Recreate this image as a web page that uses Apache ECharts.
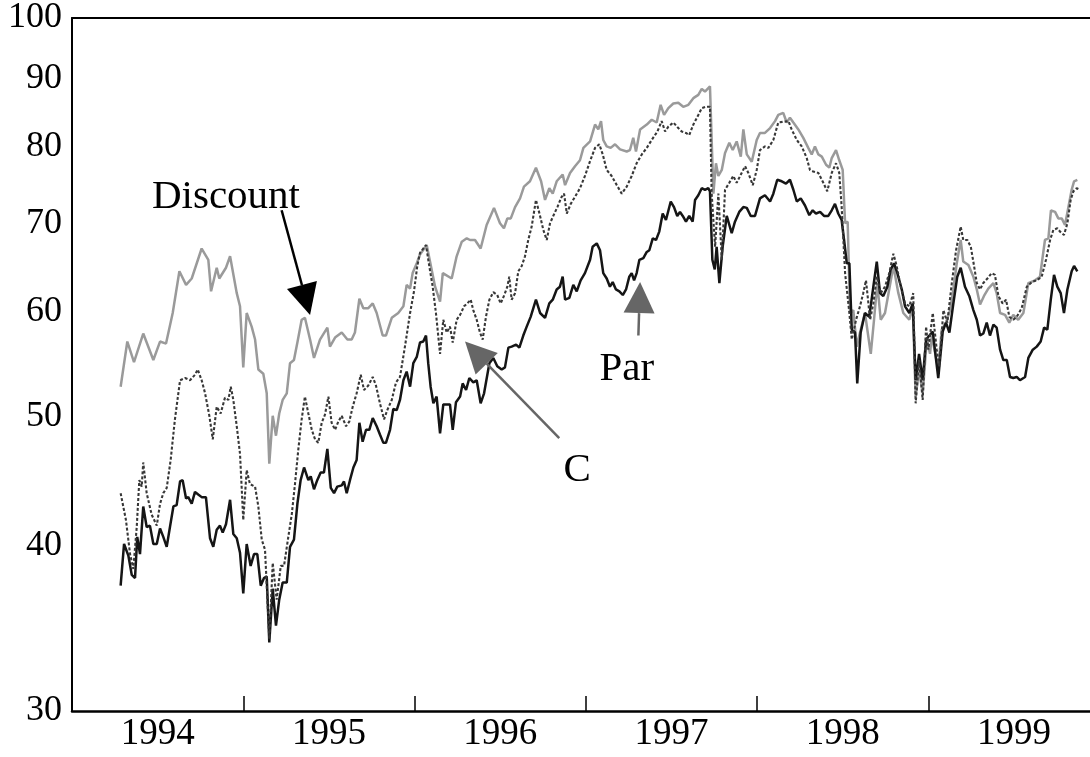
<!DOCTYPE html>
<html>
<head>
<meta charset="utf-8">
<script src="https://cdn.jsdelivr.net/npm/echarts@6.0.0/dist/echarts.min.js"></script>
<style>
html,body{margin:0;padding:0;background:#fff;}
#main{width:1090px;height:757px;}
</style>
</head>
<body>
<div id="main"></div>
<script>
// ---- Data (x = decimal year, y = price) ----
const yTickValues = [30, 40, 50, 60, 70, 80, 90, 100];
const yearTickValues = [1995, 1996, 1997, 1998, 1999];
const yearLabelValues = [1994.5, 1995.5, 1996.5, 1997.5, 1998.5, 1999.5];

const discountDates = [1994.284,1994.323,1994.362,1994.416,1994.475,1994.514,1994.549,1994.588,1994.627,1994.666,1994.699,1994.757,1994.796,1994.812,1994.845,1994.860,1994.899,1994.923,1994.962,1994.981,1995.000,1995.020,1995.049,1995.069,1995.088,1995.117,1995.137,1995.152,1995.172,1995.191,1995.210,1995.230,1995.254,1995.273,1995.296,1995.316,1995.341,1995.360,1995.390,1995.413,1995.448,1995.491,1995.506,1995.536,1995.575,1995.608,1995.633,1995.652,1995.678,1995.701,1995.730,1995.756,1995.779,1995.814,1995.833,1995.867,1995.905,1995.935,1995.954,1995.974,1995.989,1996.013,1996.032,1996.071,1996.120,1996.149,1996.165,1996.217,1996.246,1996.276,1996.305,1996.324,1996.353,1996.386,1996.421,1996.464,1996.499,1996.522,1996.542,1996.562,1996.587,1996.616,1996.639,1996.674,1996.709,1996.739,1996.762,1996.787,1996.807,1996.830,1996.865,1996.879,1996.908,1996.937,1996.966,1996.986,1997.025,1997.054,1997.073,1997.089,1997.102,1997.122,1997.145,1997.171,1997.200,1997.239,1997.258,1997.277,1997.293,1997.317,1997.356,1997.385,1997.414,1997.437,1997.457,1997.482,1997.511,1997.540,1997.569,1997.599,1997.628,1997.657,1997.677,1997.696,1997.725,1997.745,1997.760,1997.774,1997.794,1997.813,1997.838,1997.858,1997.881,1997.905,1997.920,1997.940,1997.969,1997.998,1998.017,1998.046,1998.076,1998.105,1998.124,1998.153,1998.173,1998.192,1998.212,1998.241,1998.270,1998.299,1998.319,1998.338,1998.358,1998.378,1998.403,1998.422,1998.436,1998.461,1998.480,1998.500,1998.514,1998.529,1998.543,1998.562,1998.582,1998.601,1998.630,1998.664,1998.683,1998.702,1998.722,1998.747,1998.796,1998.825,1998.854,1998.889,1998.909,1998.926,1998.946,1998.967,1998.991,1999.010,1999.020,1999.058,1999.078,1999.103,1999.127,1999.146,1999.166,1999.189,1999.204,1999.234,1999.263,1999.283,1999.302,1999.325,1999.350,1999.380,1999.399,1999.419,1999.448,1999.473,1999.496,1999.525,1999.555,1999.584,1999.623,1999.652,1999.681,1999.701,1999.716,1999.740,1999.759,1999.779,1999.798,1999.817,1999.837,1999.851,1999.870];
const discountValues = [52.7,57.0,55.0,57.8,55.2,57.0,56.8,59.9,64.4,62.9,63.6,67.0,65.7,62.2,64.8,63.6,64.8,66.1,62.0,60.6,54.5,59.9,58.5,57.2,54.3,53.9,52.1,46.1,50.1,48.4,50.3,51.5,52.1,54.9,55.2,56.9,59.2,59.4,57.2,55.4,57.2,58.4,56.5,57.4,57.9,57.2,57.2,57.9,61.4,60.4,60.4,60.9,59.9,57.6,57.6,59.4,59.9,60.6,62.9,62.5,64.2,65.3,66.3,67.4,62.7,61.1,64.2,63.6,66.1,67.8,68.2,68.0,68.0,67.0,69.8,71.9,70.0,69.4,70.6,70.6,72.0,73.1,74.6,75.3,77.1,75.3,72.9,74.4,73.7,75.3,76.2,74.8,76.4,77.3,78.1,79.8,80.7,83.1,82.4,83.6,80.9,80.0,79.8,80.3,79.6,79.3,79.5,81.2,79.3,82.4,83.1,83.8,83.4,86.0,84.5,85.5,86.2,86.3,85.7,86.0,87.0,87.5,88.4,88.0,88.8,73.7,77.7,76.0,76.8,79.1,80.5,79.5,80.7,78.6,82.4,78.9,77.9,80.9,81.9,81.9,82.6,83.6,84.5,84.8,83.4,84.1,83.4,82.4,81.2,79.8,78.9,80.0,78.9,78.6,77.5,77.1,78.4,79.5,78.1,76.8,70.0,70.2,59.9,60.2,56.5,57.9,59.9,55.8,59.2,63.1,59.2,59.9,65.0,62.0,59.9,59.2,60.6,51.8,54.3,52.1,57.2,55.8,57.6,54.3,58.2,58.9,60.2,62.4,65.3,68.0,65.5,65.1,63.8,62.4,60.8,61.7,62.5,63.1,62.0,59.9,59.7,58.9,59.7,59.2,59.9,63.1,63.4,63.8,68.0,68.2,71.6,71.4,70.6,70.6,69.8,71.9,74.2,75.3,75.5];

const parDates = [1994.284,1994.304,1994.329,1994.349,1994.368,1994.381,1994.397,1994.416,1994.436,1994.455,1994.475,1994.495,1994.514,1994.533,1994.553,1994.572,1994.592,1994.611,1994.631,1994.646,1994.666,1994.679,1994.699,1994.718,1994.737,1994.757,1994.782,1994.806,1994.825,1994.845,1994.864,1994.880,1994.899,1994.923,1994.942,1994.962,1994.981,1995.000,1995.020,1995.043,1995.063,1995.082,1995.102,1995.121,1995.137,1995.152,1995.172,1995.191,1995.210,1995.230,1995.254,1995.273,1995.296,1995.316,1995.335,1995.355,1995.380,1995.394,1995.413,1995.432,1995.452,1995.471,1995.491,1995.511,1995.530,1995.549,1995.575,1995.588,1995.604,1995.623,1995.643,1995.662,1995.678,1995.697,1995.717,1995.736,1995.756,1995.779,1995.798,1995.818,1995.833,1995.857,1995.876,1995.896,1995.915,1995.935,1995.954,1995.974,1995.993,1996.013,1996.032,1996.051,1996.067,1996.080,1996.094,1996.110,1996.129,1996.149,1996.168,1996.188,1996.207,1996.223,1996.242,1996.266,1996.281,1996.301,1996.320,1996.343,1996.363,1996.386,1996.406,1996.437,1996.460,1996.483,1996.509,1996.528,1996.548,1996.567,1996.593,1996.612,1996.635,1996.655,1996.678,1996.709,1996.733,1996.762,1996.787,1996.807,1996.830,1996.849,1996.865,1996.879,1996.904,1996.927,1996.947,1996.970,1996.995,1997.025,1997.040,1997.064,1997.083,1997.102,1997.122,1997.141,1997.157,1997.176,1997.196,1997.216,1997.235,1997.254,1997.268,1997.282,1997.297,1997.313,1997.336,1997.356,1997.371,1997.391,1997.410,1997.429,1997.449,1997.468,1997.496,1997.515,1997.534,1997.550,1997.566,1997.585,1997.604,1997.624,1997.638,1997.657,1997.677,1997.696,1997.715,1997.725,1997.739,1997.753,1997.764,1997.780,1997.799,1997.823,1997.852,1997.871,1997.896,1997.920,1997.940,1997.963,1997.988,1998.017,1998.046,1998.076,1998.095,1998.118,1998.144,1998.169,1998.192,1998.212,1998.232,1998.255,1998.280,1998.305,1998.325,1998.344,1998.368,1998.391,1998.416,1998.436,1998.455,1998.474,1998.494,1998.508,1998.524,1998.539,1998.553,1998.572,1998.585,1998.605,1998.630,1998.655,1998.679,1998.699,1998.718,1998.737,1998.761,1998.780,1998.800,1998.819,1998.845,1998.864,1998.889,1998.909,1998.926,1998.946,1998.967,1998.987,1999.026,1999.058,1999.084,1999.103,1999.123,1999.146,1999.169,1999.189,1999.214,1999.239,1999.263,1999.283,1999.302,1999.321,1999.341,1999.360,1999.380,1999.399,1999.419,1999.438,1999.458,1999.477,1999.496,1999.516,1999.535,1999.565,1999.584,1999.610,1999.633,1999.656,1999.676,1999.695,1999.715,1999.734,1999.753,1999.773,1999.792,1999.812,1999.837,1999.851,1999.870];
const parValues = [37.3,40.1,39.3,38.0,37.8,40.6,39.4,42.8,41.3,41.4,40.1,40.1,41.2,40.6,39.9,41.3,42.8,42.9,44.7,44.8,43.4,43.5,43.0,43.9,43.7,43.5,43.5,40.5,39.9,41.1,41.4,40.9,41.5,43.3,40.8,40.5,39.5,36.8,40.1,38.6,39.4,39.4,37.3,37.8,37.9,33.8,37.1,34.8,36.4,37.5,37.5,39.9,40.4,43.0,44.8,45.8,44.8,45.1,44.1,44.8,45.4,45.4,47.3,44.2,43.8,44.3,44.4,44.7,43.8,44.8,45.8,46.4,49.5,47.9,48.9,48.9,49.9,49.2,48.5,47.8,47.8,48.9,50.7,50.6,51.5,53.3,54.1,52.7,54.9,55.5,56.9,57.0,57.6,54.9,52.7,51.2,51.8,48.6,51.1,51.1,51.1,48.9,51.3,51.8,53.0,52.4,53.5,53.1,53.3,51.2,52.1,54.9,55.4,54.6,54.3,54.5,56.4,56.5,56.7,56.4,57.6,58.5,59.5,61.3,59.9,59.4,60.9,61.3,62.4,62.7,63.8,61.3,61.5,62.9,62.2,63.4,64.2,65.7,67.2,67.6,66.8,64.2,63.6,62.7,63.2,62.4,62.2,61.8,62.4,63.8,64.2,63.4,64.2,65.7,65.9,66.6,66.8,68.2,68.0,69.0,71.2,70.4,72.7,72.0,70.9,71.4,70.9,70.2,70.9,70.2,72.9,73.5,74.4,74.2,74.4,74.0,65.7,64.6,67.2,63.1,67.2,70.9,68.8,70.2,71.4,72.0,71.9,70.9,70.9,73.1,73.5,72.7,73.7,75.5,75.3,75.0,75.5,74.2,72.7,73.1,72.2,71.0,71.6,71.2,71.4,70.9,70.9,71.6,72.4,71.2,70.4,68.0,65.3,65.3,58.2,57.9,53.0,57.9,59.9,59.5,62.7,65.5,62.0,61.7,62.7,64.6,65.3,64.2,62.4,60.6,59.9,60.9,53.3,55.8,53.3,57.2,58.0,53.5,58.0,58.9,57.9,60.9,63.8,64.8,62.7,61.7,60.2,59.2,57.6,57.8,58.9,57.6,58.7,58.4,56.2,55.2,55.2,53.6,53.5,53.6,53.3,53.6,55.4,56.2,56.5,57.0,58.4,58.2,61.3,64.0,62.7,62.0,59.9,62.4,64.4,65.0,64.4];

const cDates = [1994.284,1994.315,1994.339,1994.358,1994.378,1994.393,1994.407,1994.416,1994.436,1994.465,1994.495,1994.514,1994.533,1994.553,1994.576,1994.601,1994.631,1994.660,1994.689,1994.718,1994.734,1994.757,1994.777,1994.802,1994.822,1994.845,1994.868,1994.893,1994.913,1994.927,1994.942,1994.962,1994.981,1995.000,1995.020,1995.039,1995.069,1995.088,1995.108,1995.127,1995.152,1995.172,1995.195,1995.219,1995.238,1995.263,1995.283,1995.302,1995.321,1995.341,1995.360,1995.380,1995.400,1995.419,1995.438,1995.458,1995.477,1995.497,1995.516,1995.536,1995.555,1995.575,1995.600,1995.619,1995.639,1995.662,1995.686,1995.705,1995.730,1995.756,1995.775,1995.798,1995.822,1995.841,1995.867,1995.892,1995.915,1995.944,1995.974,1995.997,1996.016,1996.032,1996.067,1996.086,1996.106,1996.125,1996.149,1996.168,1996.188,1996.207,1996.223,1996.246,1996.266,1996.289,1996.308,1996.328,1996.343,1996.363,1996.382,1996.398,1996.417,1996.437,1996.460,1996.483,1996.503,1996.522,1996.542,1996.553,1996.567,1996.587,1996.606,1996.626,1996.645,1996.664,1996.684,1996.709,1996.733,1996.752,1996.772,1996.791,1996.810,1996.834,1996.859,1996.873,1996.889,1996.912,1996.937,1996.966,1996.995,1997.025,1997.054,1997.079,1997.099,1997.122,1997.151,1997.181,1997.210,1997.239,1997.268,1997.297,1997.327,1997.356,1997.385,1997.418,1997.443,1997.463,1997.482,1997.511,1997.540,1997.560,1997.585,1997.604,1997.628,1997.657,1997.677,1997.702,1997.725,1997.735,1997.755,1997.774,1997.794,1997.813,1997.838,1997.861,1997.881,1997.910,1997.930,1997.949,1997.975,1997.998,1998.017,1998.046,1998.066,1998.095,1998.124,1998.153,1998.183,1998.202,1998.232,1998.261,1998.290,1998.309,1998.328,1998.358,1998.387,1998.410,1998.436,1998.461,1998.480,1998.494,1998.514,1998.539,1998.553,1998.578,1998.601,1998.620,1998.636,1998.660,1998.679,1998.699,1998.722,1998.747,1998.772,1998.796,1998.815,1998.839,1998.864,1998.889,1998.912,1998.926,1998.946,1998.967,1998.987,1999.000,1999.026,1999.049,1999.064,1999.088,1999.111,1999.137,1999.162,1999.189,1999.204,1999.228,1999.248,1999.267,1999.283,1999.302,1999.321,1999.345,1999.370,1999.389,1999.409,1999.434,1999.454,1999.473,1999.496,1999.516,1999.545,1999.575,1999.604,1999.633,1999.662,1999.687,1999.711,1999.730,1999.753,1999.769,1999.792,1999.812,1999.831,1999.847,1999.866,1999.885];
const cValues = [43.8,41.8,39.4,38.4,41.3,44.8,44.3,46.2,43.8,42.2,41.4,43.0,43.8,44.2,46.4,49.8,53.3,53.5,53.3,53.8,54.3,53.3,52.1,50.1,48.1,50.9,50.3,51.7,51.5,52.7,51.5,49.2,46.9,41.8,45.6,44.5,44.3,42.8,40.4,39.7,34.0,38.8,36.4,38.6,38.6,40.6,42.2,44.5,47.2,49.8,51.8,50.3,48.9,48.1,47.8,49.5,50.2,51.8,49.5,48.9,49.6,50.1,49.2,49.6,50.9,52.1,53.8,52.4,52.8,53.6,52.8,51.2,49.8,50.6,51.5,53.1,53.6,56.5,59.9,62.2,65.0,66.5,67.4,65.0,62.7,59.9,55.8,59.2,57.9,58.5,56.9,59.2,59.7,60.6,60.9,61.3,60.2,59.2,57.9,57.2,59.5,61.3,62.1,61.8,60.9,61.7,62.7,63.8,61.3,62.0,64.4,65.0,66.1,68.0,69.6,72.9,70.9,69.2,68.0,70.0,70.9,72.0,73.3,73.7,71.2,72.4,73.3,74.4,76.0,78.0,79.8,80.3,78.9,76.8,76.0,74.8,73.7,74.6,76.0,77.7,78.9,79.8,80.9,82.1,83.6,82.1,82.8,83.4,82.6,82.1,81.9,81.6,83.1,84.5,85.5,85.7,85.7,73.7,67.2,73.7,65.7,74.2,75.1,76.0,75.1,76.4,77.3,76.4,74.8,76.8,79.5,80.0,79.8,80.9,83.4,83.5,83.6,82.4,80.9,80.0,78.4,76.8,76.6,76.4,75.1,74.0,76.4,77.7,76.4,72.0,64.2,59.9,57.2,59.2,60.6,62.0,63.4,59.2,60.9,63.8,62.0,62.7,64.2,66.4,65.0,62.7,60.9,60.6,62.0,51.2,55.2,51.5,58.5,56.2,59.9,56.2,54.6,60.2,58.9,63.1,66.8,69.6,68.0,68.0,67.2,65.0,63.1,62.4,63.1,63.6,64.2,64.0,61.7,60.9,61.3,59.5,59.2,59.5,60.4,62.7,63.2,63.4,63.8,65.7,68.0,69.2,69.4,69.0,68.6,70.0,72.9,74.0,74.4,74.2];

// Annotations in (year, value) units
const annotations = [
  {text: 'Discount', at: [1994.899, 73.2], tail: [1995.224, 71.6], tip: [1995.390, 59.7], color: '#000000'},
  {text: 'C',        at: [1996.949, 45.6], tail: [1996.845, 48.2], tip: [1996.295, 57.0], color: '#666666'},
  {text: 'Par',      at: [1997.239, 54.3], tail: [1997.307, 57.6], tip: [1997.317, 63.2], color: '#666666'}
];

function zip(xs, ys) { return xs.map((x, i) => [x, ys[i]]); }

const FONT = '"Liberation Serif", "Times New Roman", serif';

const chart = echarts.init(document.getElementById('main'), null, {renderer: 'canvas'});
const option = {
  animation: false,
  backgroundColor: '#ffffff',
  grid: {left: 72, right: 0, top: 18, bottom: 46, containLabel: false},
  xAxis: [{
    type: 'value', min: 1994, max: 1999.944,
    axisLine: {show: true, lineStyle: {color: '#000', width: 2.5}},
    axisTick: {show: true, inside: true, length: 15, customValues: yearTickValues, lineStyle: {color: '#000', width: 1.5}},
    axisLabel: {show: true, customValues: yearLabelValues, formatter: v => String(Math.floor(v)),
      color: '#000', fontFamily: FONT, fontSize: 37, margin: 5},
    splitLine: {show: false}
  }, {
    type: 'value', position: 'top', min: 1994, max: 1999.944,
    axisLine: {show: true, onZero: false, lineStyle: {color: '#000', width: 2}},
    axisTick: {show: false}, axisLabel: {show: false}, splitLine: {show: false}
  }],
  yAxis: {
    type: 'log', logBase: 10, min: 30, max: 100,
    axisLine: {show: true, lineStyle: {color: '#000', width: 2}},
    axisTick: {show: false},
    axisLabel: {show: true, customValues: yTickValues, color: '#000', fontFamily: FONT, fontSize: 36, margin: 10,
      formatter: v => String(Math.round(v))},
    splitLine: {show: false}
  },
  series: [
    {name: 'Discount', type: 'line', xAxisIndex: 0, data: zip(discountDates, discountValues), showSymbol: false,
      lineStyle: {color: '#9a9a9a', width: 2.5}, z: 2},
    {name: 'Par', type: 'line', xAxisIndex: 0, data: zip(parDates, parValues), showSymbol: false,
      lineStyle: {color: '#151515', width: 2.5}, z: 3},
    {name: 'C', type: 'line', xAxisIndex: 0, data: zip(cDates, cValues), showSymbol: false,
      lineStyle: {color: '#383838', width: 2.1, type: [3, 2]}, z: 4}
  ]
};
chart.setOption(option);

// Annotation arrows and texts, positioned through the chart's own scales
const graphics = [];
annotations.forEach(a => {
  const T = chart.convertToPixel({seriesIndex: 0}, a.tip);
  const S = chart.convertToPixel({seriesIndex: 0}, a.tail);
  const P = chart.convertToPixel({seriesIndex: 0}, a.at);
  const dx = T[0] - S[0], dy = T[1] - S[1];
  const len = Math.sqrt(dx * dx + dy * dy);
  const ux = dx / len, uy = dy / len;
  const headL = 31, headW = 31;
  const bx = T[0] - ux * headL, by = T[1] - uy * headL;
  const nx = -uy, ny = ux;
  graphics.push({type: 'line', shape: {x1: S[0], y1: S[1], x2: bx, y2: by},
    style: {stroke: a.color, lineWidth: 2.5}, z: 10});
  graphics.push({type: 'polygon', shape: {points: [[T[0], T[1]], [bx + nx * headW / 2, by + ny * headW / 2], [bx - nx * headW / 2, by - ny * headW / 2]]},
    style: {fill: a.color}, z: 10});
  graphics.push({type: 'text', x: P[0], y: P[1], style: {text: a.text, fill: '#000', font: '41px ' + FONT,
    textAlign: 'center', textVerticalAlign: 'middle', align: 'center', verticalAlign: 'middle'}, z: 10});
});
chart.setOption({graphic: graphics});
</script>
</body>
</html>
